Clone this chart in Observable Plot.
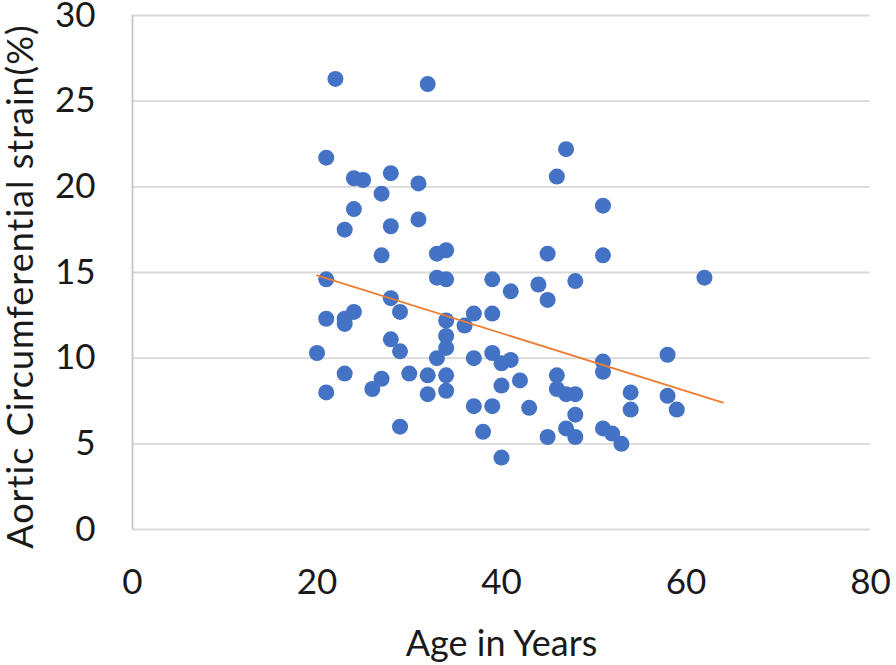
<!DOCTYPE html>
<html>
<head>
<meta charset="utf-8">
<script src="https://cdn.jsdelivr.net/npm/d3@7"></script>
<script src="https://cdn.jsdelivr.net/npm/@observablehq/plot@0.6"></script>
<style>
  html, body { margin: 0; padding: 0; background: #fff; }
  #chart svg { display: block; }
</style>
</head>
<body>
<div id="chart"></div>
<script>
// Age in years
const ages = [
  20, 21, 21, 21, 21, 22, 23, 23, 23, 23,
  24, 24, 24, 25, 26, 27, 27, 27, 28, 28,
  28, 28, 29, 29, 29, 30, 31, 31, 32, 32,
  32, 33, 33, 33, 34, 34, 34, 34, 34, 34,
  34, 36, 37, 37, 37, 38, 39, 39, 39, 39,
  40, 40, 40, 41, 41, 42, 43, 44, 45, 45,
  45, 46, 46, 46, 47, 47, 47, 48, 48, 48,
  48, 51, 51, 51, 51, 51, 52, 53, 54, 54,
  58, 58, 59, 62
];
// Aortic circumferential strain (%)
const strain = [
  10.3, 21.7, 14.6, 12.3, 8.0, 26.3, 17.5, 12.3, 12.0, 9.1,
  20.5, 18.7, 12.7, 20.4, 8.2, 19.6, 16.0, 8.8, 20.8, 17.7,
  13.5, 11.1, 12.7, 10.4, 6.0, 9.1, 20.2, 18.1, 26.0, 9.0,
  7.9, 16.1, 14.7, 10.0, 16.3, 14.6, 12.2, 11.3, 10.6, 9.0,
  8.1, 11.9, 12.6, 10.0, 7.2, 5.7, 14.6, 12.6, 10.3, 7.2,
  9.7, 8.4, 4.2, 13.9, 9.9, 8.7, 7.1, 14.3, 16.1, 13.4,
  5.4, 20.6, 9.0, 8.2, 22.2, 7.9, 5.9, 14.5, 7.9, 6.7,
  5.4, 18.9, 16.0, 9.8, 9.2, 5.9, 5.6, 5.0, 8.0, 7.0,
  10.2, 7.8, 7.0, 14.7
];
// Linear trendline endpoints
const trendAge = [20, 64];
const trendStrain = [14.83, 7.41];

const xTicks = [0, 20, 40, 60, 80];
const yTicks = [0, 5, 10, 15, 20, 25, 30];
const xTitle = "Age in Years";
const yTitle = "Aortic Circumferential strain(%)";

const points = ages.map((a, i) => ({age: a, strain: strain[i]}));
const trend = trendAge.map((a, i) => ({age: a, strain: trendStrain[i]}));

const font = "Lato, 'Open Sans', sans-serif";
const textColor = "#1a1a1a";

const chart = Plot.plot({
  width: 896,
  height: 665,
  marginLeft: 132,
  marginRight: 26,
  marginTop: 15,
  marginBottom: 136,
  style: {fontFamily: font, background: "#fff", overflow: "visible"},
  x: {domain: [0, 80], ticks: xTicks},
  y: {domain: [0, 30], ticks: yTicks},
  marks: [
    Plot.gridY(yTicks, {stroke: "#d9d9d9", strokeOpacity: 1, strokeWidth: 1.8}),
    Plot.ruleX([0], {stroke: "#c8c8c8", strokeWidth: 1.8}),
    Plot.axisX(xTicks, {tickSize: 0, tickPadding: 40, fontSize: 35, fill: textColor, label: null}),
    Plot.axisY(yTicks, {tickSize: 0, tickPadding: 37, fontSize: 35, fill: textColor, label: null}),
    Plot.dot(points, {x: "age", y: "strain", r: 8, fill: "#4472C4", stroke: "none"}),
    Plot.line(trend, {x: "age", y: "strain", stroke: "#ED7D31", strokeWidth: 1.8}),
    Plot.text([xTitle], {frameAnchor: "bottom", dy: 115, fontSize: 36, fill: textColor, textAnchor: "middle", lineAnchor: "middle"}),
    Plot.text([yTitle], {frameAnchor: "left", dx: -111, dy: 14, rotate: -90, fontSize: 36, fill: textColor, textAnchor: "middle", lineAnchor: "middle", className: "ytitle"})
  ]
});
d3.select(chart).selectAll(".ytitle text").style("letter-spacing", "1px");
document.getElementById("chart").appendChild(chart);
</script>
</body>
</html>
